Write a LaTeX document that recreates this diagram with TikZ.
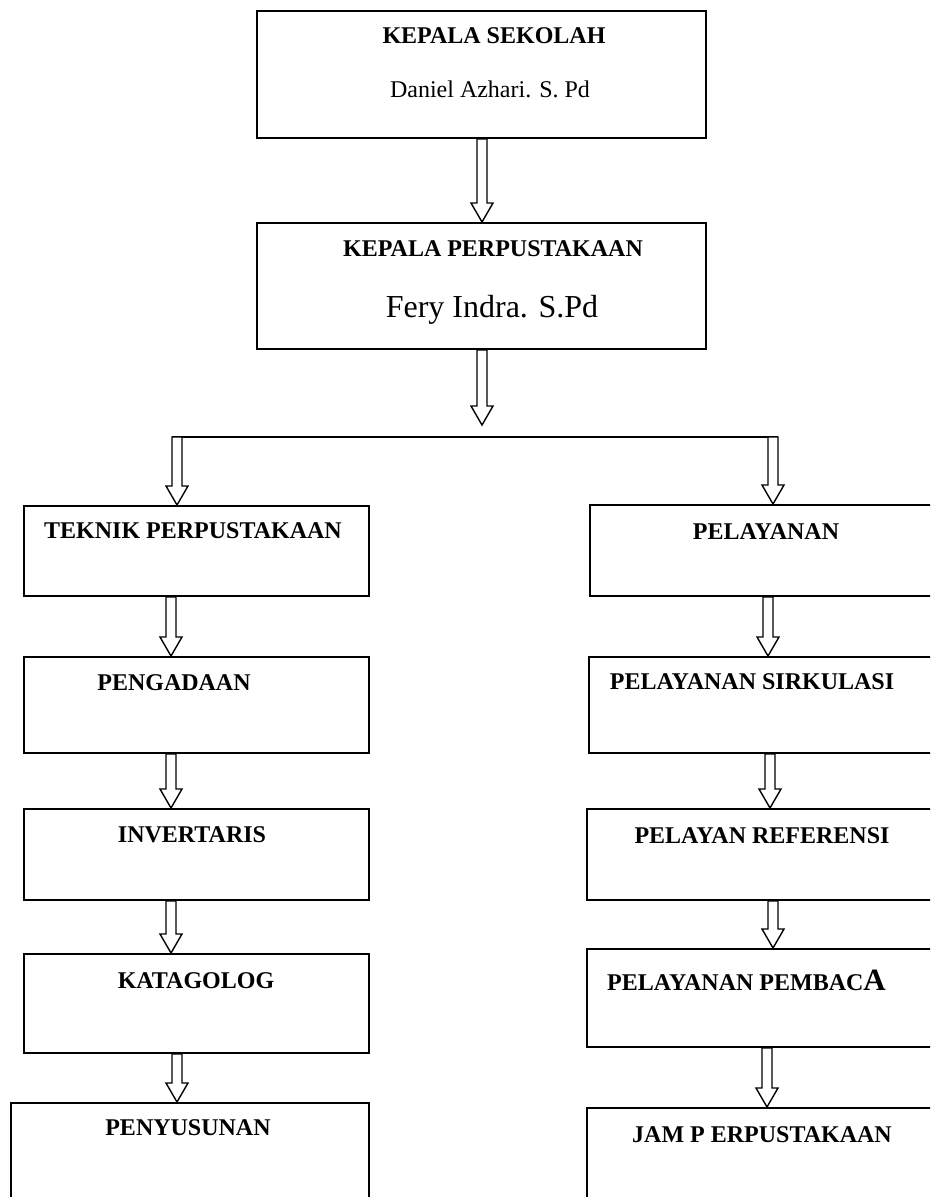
\documentclass[tikz,border=0pt]{standalone}
\usepackage{fontspec}
\setmainfont{Liberation Serif}
\usetikzlibrary{calc}

\tikzset{
  box/.style={draw,line width=2pt,anchor=north west,inner sep=0pt},
  head/.style={font=\bfseries\fontsize{24}{28}\selectfont,inner sep=0pt},
  person/.style={inner sep=0pt},
  blkarrow/.style={draw,line width=1.4pt,fill=white,line join=miter},
}
% block arrow: x, from, to
\newcommand{\blk}[3]{\draw[blkarrow] let \p1=(#2),\p2=(#3) in (#1pt-5pt,\y1)--(#1pt-5pt,\y2+19pt)--(#1pt-11pt,\y2+19pt)--(#1pt,\y2)--(#1pt+11pt,\y2+19pt)--(#1pt+5pt,\y2+19pt)--(#1pt+5pt,\y1)--cycle;}

\begin{document}
\begin{tikzpicture}[x=1pt,y=-1pt]
        \clip(0,0)rectangle(930,1197);
        % pimpinan
        \node[box,minimum width=449pt,minimum height=127pt](ks)at(256,10){};
        \node[head,anchor=base](ks1)at(494,43){KEPALA SEKOLAH};
        \node[person,anchor=base,font=\fontsize{24}{28}\selectfont](ks2)at(490,97){Daniel Azhari. S. Pd};
        \node[box,minimum width=449pt,minimum height=126pt](kp)at(256,222){};
        \node[head,anchor=base](kp1)at(493,256){KEPALA PERPUSTAKAAN};
        \node[person,anchor=base,font=\fontsize{32}{36}\selectfont](kp2)at(492,317){Fery Indra. S.Pd};
        \blk{482}{ks.south}{kp.north}
        \coordinate(hub)at(482,425);
        \coordinate(lft)at(177,437);
        \coordinate(rgt)at(773,437);
        \blk{482}{kp.south}{hub}
        \draw[line width=1.4pt]([xshift=-5pt]lft)--([xshift=5pt]rgt);
        % teknik
        \node[box,minimum width=345pt,minimum height=90pt](tp)at(23,505){};
        \node[head,anchor=base](tp1)at(193,538){TEKNIK PERPUSTAKAAN};
        \node[box,minimum width=345pt,minimum height=96pt](pg)at(23,656){};
        \node[head,anchor=base](pg1)at(174,690){PENGADAAN};
        \node[box,minimum width=345pt,minimum height=91pt](inv)at(23,808){};
        \node[head,anchor=base](inv1)at(192,842){INVERTARIS};
        \node[box,minimum width=345pt,minimum height=99pt](kat)at(23,953){};
        \node[head,anchor=base](kat1)at(196,988){KATAGOLOG};
        \node[box,minimum width=358pt,minimum height=140pt](pny)at(10,1102){};
        \node[head,anchor=base](pny1)at(188,1135){PENYUSUNAN};
        \blk{177}{lft}{tp.north}
        \blk{171}{tp.south}{pg.north}
        \blk{171}{pg.south}{inv.north}
        \blk{171}{inv.south}{kat.north}
        \blk{177}{kat.south}{pny.north}
        % pelayanan
        \node[box,minimum width=380pt,minimum height=91pt](pl)at(589,504){};
        \node[head,anchor=base](pl1)at(766,539){PELAYANAN};
        \node[box,minimum width=380pt,minimum height=96pt](ps)at(588,656){};
        \node[head,anchor=base](ps1)at(752,689){PELAYANAN SIRKULASI};
        \node[box,minimum width=380pt,minimum height=91pt](pr)at(586,808){};
        \node[head,anchor=base](pr1)at(762,843){PELAYAN REFERENSI};
        \node[box,minimum width=380pt,minimum height=98pt](pp)at(586,948){};
        \node[head,anchor=base west](pp1)at(607,990){PELAYANAN PEMBAC{\fontsize{31}{34}\selectfont A}};
        \node[box,minimum width=380pt,minimum height=140pt](jam)at(586,1107){};
        \node[head,anchor=base](jam1)at(762,1142){JAM P ERPUSTAKAAN};
        \blk{773}{rgt}{pl.north}
        \blk{768}{pl.south}{ps.north}
        \blk{770}{ps.south}{pr.north}
        \blk{773}{pr.south}{pp.north}
        \blk{767}{pp.south}{jam.north}
\end{tikzpicture}
\end{document}
